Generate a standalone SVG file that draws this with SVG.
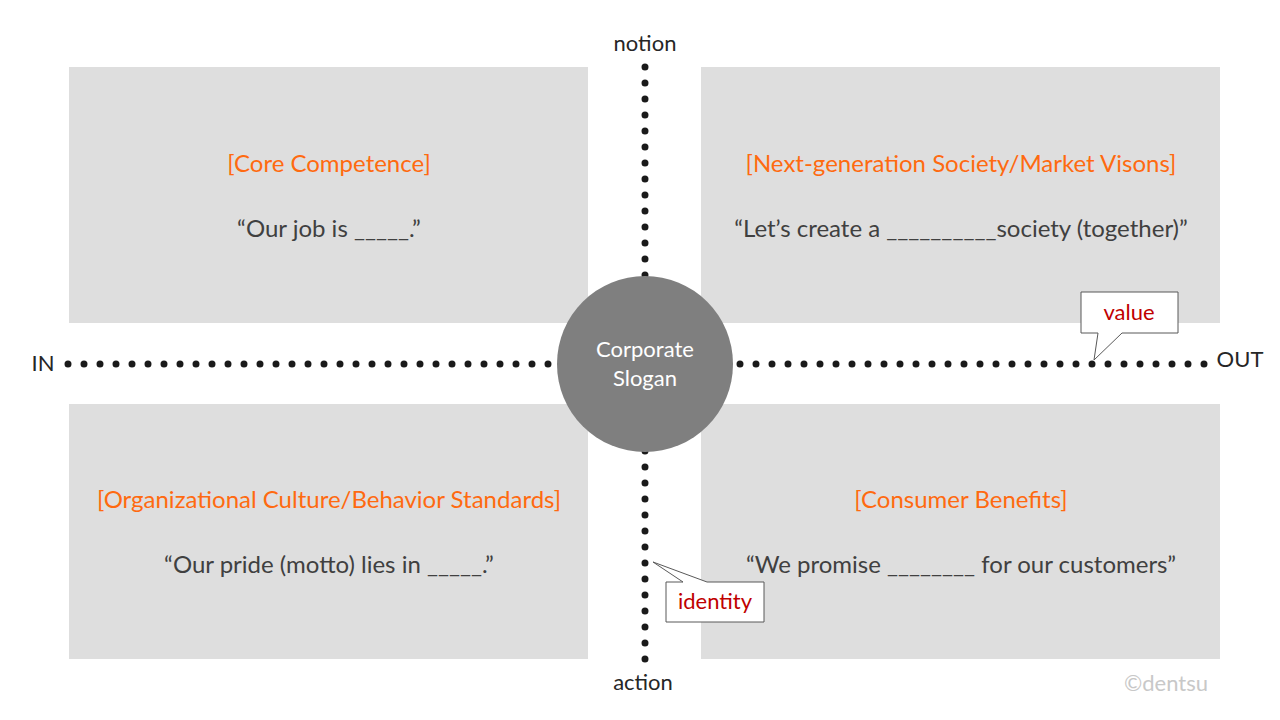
<svg xmlns="http://www.w3.org/2000/svg" width="1280" height="720" viewBox="0 0 1280 720">
<style>
.box{fill:#dedede}
.head{font-family:Lato,"Liberation Sans",sans-serif;font-size:24px;fill:#ff6a10;text-anchor:middle}
.quote{font-family:Lato,"Liberation Sans",sans-serif;font-size:24px;fill:#404040;text-anchor:middle}
.axis{font-family:Lato,"Liberation Sans",sans-serif;font-size:22px;fill:#262626;text-anchor:middle}
.dots{stroke:#1a1a1a;stroke-width:7;stroke-linecap:round;stroke-dasharray:0 16;fill:none}
.call{fill:#ffffff;stroke:#595959;stroke-width:1}
.ctext{font-family:Lato,"Liberation Sans",sans-serif;font-size:22px;fill:#c00000;text-anchor:middle}
</style>
<rect width="1280" height="720" fill="#ffffff"/>
<g id="core-competence">
<rect class="box" x="69" y="67" width="519" height="256"/>
<text class="head" x="329" y="172">[Core Competence]</text>
<text class="quote" x="329" y="237">“Our job is _____.”</text>
</g>
<g id="market-visions">
<rect class="box" x="701" y="67" width="519" height="256"/>
<text class="head" x="961" y="172">[Next-generation Society/Market Visons]</text>
<text class="quote" x="961" y="237">“Let’s create a __________society (together)”</text>
</g>
<g id="org-culture">
<rect class="box" x="69" y="404" width="519" height="255"/>
<text class="head" x="329" y="508">[Organizational Culture/Behavior Standards]</text>
<text class="quote" x="329" y="573">“Our pride (motto) lies in _____.”</text>
</g>
<g id="consumer-benefits">
<rect class="box" x="701" y="404" width="519" height="255"/>
<text class="head" x="961" y="508">[Consumer Benefits]</text>
<text class="quote" x="961" y="573">“We promise ________ for our customers”</text>
</g>
<g id="connectors">
<line class="dots" x1="68" y1="364" x2="1205" y2="364"/>
<line class="dots" x1="645" y1="67" x2="645" y2="660"/>
</g>
<g id="axis-labels">
<text class="axis" x="645" y="51">notion</text>
<text class="axis" x="643" y="690">action</text>
<text class="axis" x="43" y="371">IN</text>
<text class="axis" x="1240" y="367">OUT</text>
</g>
<g id="corporate-slogan">
<circle cx="645" cy="364" r="88" fill="#7f7f7f"/>
<text x="645" y="357" font-family="Lato, 'Liberation Sans', sans-serif" font-size="22" fill="#ffffff" text-anchor="middle">Corporate</text>
<text x="645" y="386" font-family="Lato, 'Liberation Sans', sans-serif" font-size="22" fill="#ffffff" text-anchor="middle">Slogan</text>
</g>
<g id="callout-value">
<path class="call" d="M1081,292 H1178 V333 H1122 L1094,360 L1098,333 H1081 Z"/>
<text class="ctext" x="1129" y="320">value</text>
</g>
<g id="callout-identity">
<path class="call" d="M666,582 H683 L653,562 L707,582 H764 V622 H666 Z"/>
<text class="ctext" x="715" y="609">identity</text>
</g>
<g id="copyright">
<text x="1166" y="691" font-family="Lato, 'Liberation Sans', sans-serif" font-size="22" fill="#c8c8c8" text-anchor="middle">©dentsu</text>
</g>
</svg>
